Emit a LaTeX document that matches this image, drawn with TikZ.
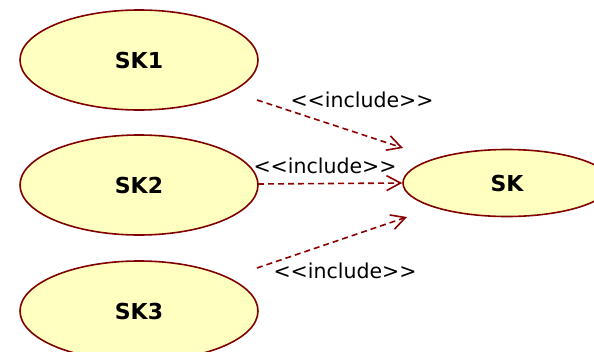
\documentclass[tikz,border=0pt]{standalone}
\usepackage{fontspec}
\setmainfont{DejaVu Sans}
\usetikzlibrary{shapes.geometric,arrows.meta}
\definecolor{ucfill}{RGB}{255,255,192}
\definecolor{ucline}{RGB}{128,0,0}
\definecolor{inccol}{RGB}{139,0,0}
\newcommand{\inctxt}{{<}{<}include{>}{>}}
\tikzset{
  usecase/.style={ellipse,draw=ucline,fill=ucfill,line width=1.6pt,inner sep=0pt,
    minimum width=238pt,minimum height=100pt,font=\fontsize{22}{26}\selectfont\bfseries},
  incl/.style={draw=inccol,line width=1.6pt,dash pattern=on 6pt off 4pt,
    -{Straight Barb[length=14pt,width=15pt,line width=1.6pt]}},
  incltext/.style={font=\fontsize{20.5}{24}\selectfont,inner sep=0pt}
}
\begin{document}
\begin{tikzpicture}[x=1pt,y=-1pt]
\useasboundingbox (0,0) rectangle (594,351);
\node[usecase] (sk1) at (139,60) {SK1};
\node[usecase] (sk2) at (139,185) {SK2};
\node[usecase] (sk3) at (139,311) {SK3};
\node[usecase,minimum width=208pt,minimum height=67pt] (sk) at (507,183) {SK};
\coordinate (s1) at (257,100);
\coordinate (e1) at (403,148);
\coordinate (s2) at (258,184);
\coordinate (s3) at (257,268);
\coordinate (e3) at (407,217);
\draw[incl] (s1) -- (e1);
\draw[incl] (s2) -- (sk.west);
\draw[incl] (s3) -- (e3);
\node[incltext] (l1) at (362,100) {\inctxt};
\node[incltext] (l2) at (325,166) {\inctxt};
\node[incltext] (l3) at (345,271) {\inctxt};
\end{tikzpicture}
\end{document}
